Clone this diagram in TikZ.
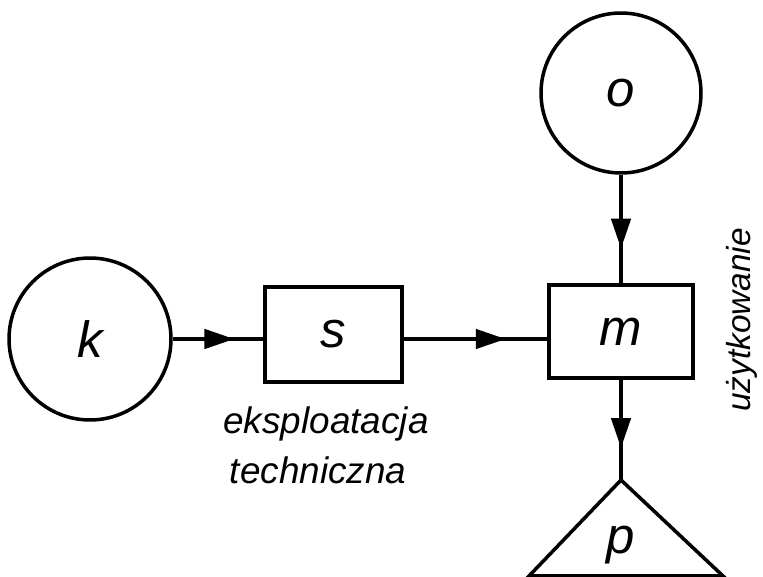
\documentclass[tikz,border=0pt]{standalone}
\usepackage{fontspec}
\setmainfont{Liberation Sans}
\usetikzlibrary{arrows.meta,decorations.markings}
\begin{document}
\begin{tikzpicture}[x=0.02cm,y=-0.02cm,
  line width=2pt,
  bigletter/.style={font=\fontsize{29}{30}\selectfont\itshape},
  circ/.style={draw,circle,inner sep=0pt,bigletter},
  box/.style={draw,rectangle,inner sep=0pt,minimum width=2.8cm,minimum height=1.88cm,bigletter},
  lab/.style={font=\fontsize{21}{24}\selectfont\itshape,inner sep=0pt},
  flow/.style={postaction={decorate},decoration={markings,mark=at position #1 with {\arrow{Triangle[length=17pt,width=11pt]}}}}
]
\useasboundingbox (0,0) rectangle (763,577);
\node[circ,minimum size=3.24cm] (k) at (90,339) {k};
\node[box,minimum width=2.74cm,minimum height=1.9cm] (s) at (333.5,334.5) {s};
\node[box,minimum width=2.88cm,minimum height=1.86cm] (m) at (621,331.5) {m};
\node[circ,minimum size=3.2cm] (o) at (621,93) {o};
\coordinate (papex) at (621,480);
\coordinate (pl) at (529,576);
\coordinate (pr) at (723,576);
\draw[line join=miter] (papex) -- (pl) -- (pr) -- cycle;
\node[bigletter] (p) at (621,545) {p};
\draw[flow=0.68] (k.east) -- (k.east -| s.west);
\draw[flow=0.71] (s.east |- k.east) -- (m.west |- k.east);
\draw[flow=0.68] (o.south) -- (m.north);
\draw[flow=0.68] (m.south) -- (papex);
\node[lab,anchor=base] (t1) at (326,433) {eksploatacja};
\node[lab,anchor=base] (t2) at (318,483) {techniczna};
\node[lab,font=\fontsize{19}{22}\selectfont\itshape,rotate=90,anchor=base] (t3) at (750,320) {użytkowanie};
\end{tikzpicture}
\end{document}
